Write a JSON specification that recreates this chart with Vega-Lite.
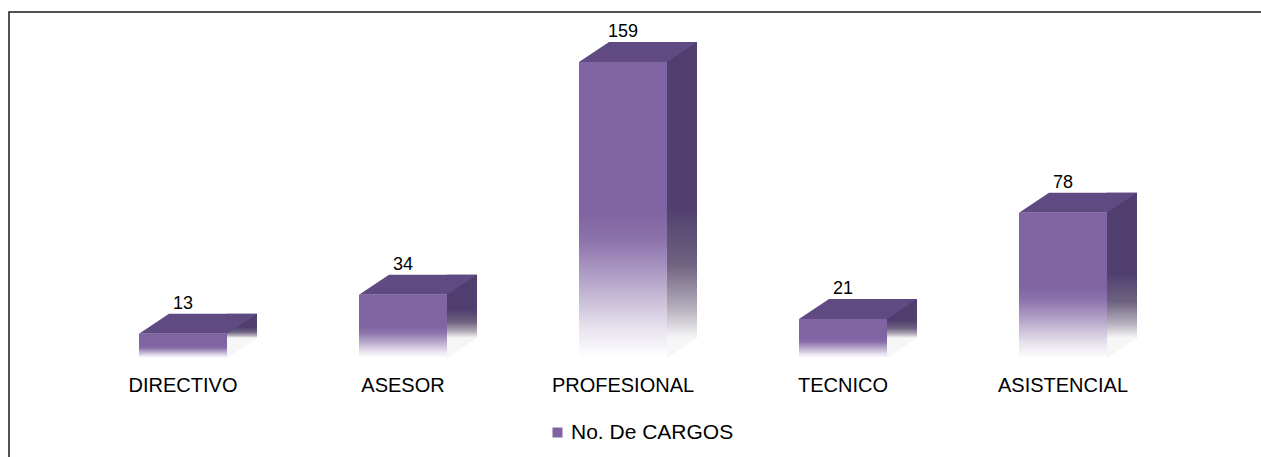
{
  "$schema": "https://vega.github.io/schema/vega-lite/v6.json",
  "width": 1252,
  "height": 445,
  "autosize": {"type": "none"},
  "padding": {"left": 9, "top": 12, "right": 0, "bottom": 0},
  "background": "#ffffff",
  "config": {
    "view": {"stroke": "#1a1a1a", "strokeWidth": 1.5, "strokeDash": [1252, 1697, 445]},
    "font": "Liberation Sans"
  },
  "data": {
    "values": [
      {"cargo": "DIRECTIVO", "valor": 13, "serie": "No. De CARGOS"},
      {"cargo": "ASESOR", "valor": 34, "serie": "No. De CARGOS"},
      {"cargo": "PROFESIONAL", "valor": 159, "serie": "No. De CARGOS"},
      {"cargo": "TECNICO", "valor": 21, "serie": "No. De CARGOS"},
      {"cargo": "ASISTENCIAL", "valor": 78, "serie": "No. De CARGOS"}
    ]
  },
  "encoding": {
    "x": {
      "field": "cargo",
      "type": "nominal",
      "sort": null,
      "scale": {"range": [64, 1164], "paddingInner": 0, "paddingOuter": 0},
      "axis": {
        "orient": "bottom",
        "offset": -99,
        "domain": false,
        "ticks": false,
        "grid": false,
        "title": null,
        "labelAngle": 0,
        "labelPadding": 17,
        "labelFontSize": 20,
        "labelFont": "Liberation Sans",
        "labelColor": "#000000"
      }
    },
    "y": {
      "field": "valor",
      "type": "quantitative",
      "scale": {"domain": [-53.2, 185.9], "nice": false, "zero": false},
      "axis": null
    }
  },
  "layer": [
    {
      "mark": {
        "type": "bar",
        "width": 30,
        "xOffset": 59,
        "yOffset": -20,
        "y2Offset": -20,
        "fill": {
          "gradient": "linear", "x1": 0, "y1": 0, "x2": 0, "y2": 1,
          "stops": [
            {"offset": 0, "color": "#4f3e6e"},
            {"offset": 0.55, "color": "#4f3e6e"},
            {"offset": 0.75, "color": "#6e6280"},
            {"offset": 0.9, "color": "#b5afbd"},
            {"offset": 1, "color": "#f6f6f6"}
          ]
        }
      },
      "encoding": {"y2": {"datum": 0}}
    },
    {
      "mark": {
        "type": "point",
        "shape": "M 44 0 L 44 -20 L 74 -20 Z",
        "size": 4,
        "filled": true,
        "opacity": 1,
        "color": "#f6f6f6",
        "strokeWidth": 0
      },
      "encoding": {"y": {"datum": 0}}
    },
    {
      "mark": {
        "type": "point",
        "shape": "M -44 0 L -14 -20 L 74 -20 L 44 0 Z",
        "size": 4,
        "filled": true,
        "opacity": 1,
        "color": "#5f4b82",
        "strokeWidth": 0
      }
    },
    {
      "mark": {"type": "bar", "width": 88},
      "encoding": {
        "y2": {"datum": 0},
        "fill": {
          "field": "serie",
          "type": "nominal",
          "scale": {"domain": ["No. De CARGOS"], "range": ["#7f63a2"]},
          "legend": {
            "orient": "none",
            "legendX": 538,
            "legendY": 410,
            "title": null,
            "symbolType": "square",
            "symbolSize": 100,
            "symbolStrokeWidth": 0,
            "labelFontSize": 21,
            "labelFont": "Liberation Sans",
            "labelColor": "#000000",
            "labelOffset": 3,
            "labelLimit": 400
          }
        }
      }
    },
    {
      "mark": {
        "type": "bar",
        "width": 88,
        "fill": {
          "gradient": "linear", "x1": 0, "y1": 0, "x2": 0, "y2": 1,
          "stops": [
            {"offset": 0, "color": "rgba(255,255,255,0)"},
            {"offset": 0.5, "color": "rgba(255,255,255,0)"},
            {"offset": 0.6, "color": "rgba(255,255,255,0.1)"},
            {"offset": 0.75, "color": "rgba(255,255,255,0.45)"},
            {"offset": 0.9, "color": "rgba(255,255,255,0.82)"},
            {"offset": 1, "color": "rgba(255,255,255,1)"}
          ]
        }
      },
      "encoding": {"y2": {"datum": 0}}
    },
    {
      "mark": {
        "type": "text",
        "dy": -25,
        "baseline": "alphabetic",
        "fontSize": 18,
        "font": "Liberation Sans",
        "color": "#000000"
      },
      "encoding": {"text": {"field": "valor", "type": "quantitative"}}
    }
  ]
}
